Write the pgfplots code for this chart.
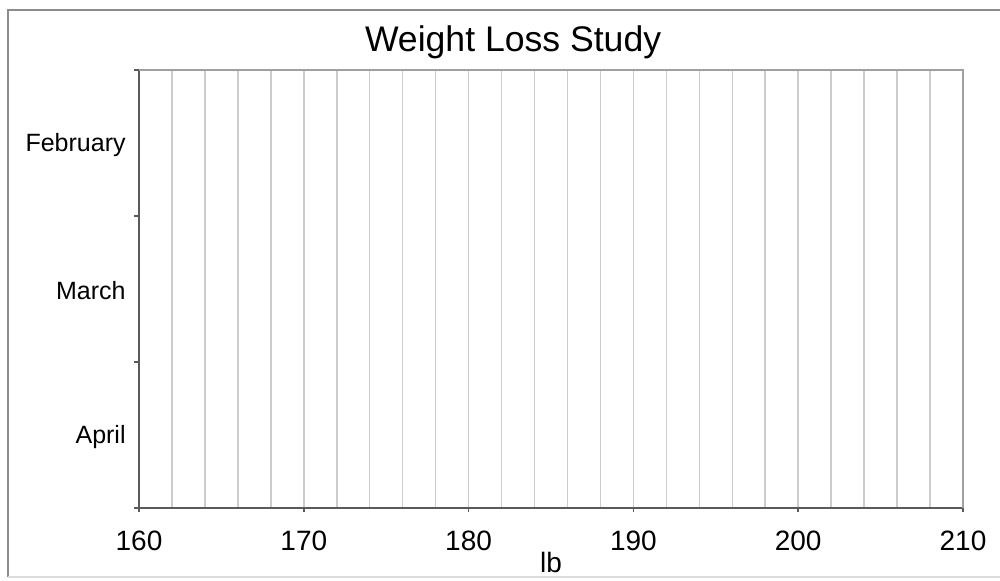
\documentclass[border=0pt]{standalone}
\usepackage{pgfplots}
\pgfplotsset{compat=1.18}
\usepackage{fontspec}
\setmainfont{Liberation Sans}
\definecolor{gridc}{HTML}{CCCCCC}
\definecolor{axc}{HTML}{5A5A5A}
\definecolor{boxc}{HTML}{A0A0A0}
\definecolor{framec}{HTML}{8C8C8C}
\begin{document}
\begin{tikzpicture}
\useasboundingbox (0,0) rectangle (500pt,290pt);
\draw[framec, line width=1.2pt] (510pt,285pt) -- (4pt,285pt) -- (4pt,1.5pt);
\draw[gridc!70, line width=0.6pt] (4pt,1.5pt) -- (510pt,1.5pt);
\begin{axis}[
  at={(69.5pt,36pt)}, anchor=south west,
  scale only axis, width=412pt, height=219pt,
  xmin=160, xmax=210, ymin=0, ymax=3,
  axis x line*=bottom, axis y line*=left,
  axis line style={axc, line width=1pt},
  tick align=outside,
  xtick={160,170,...,210},
  minor x tick num=4,
  xmajorgrids, xminorgrids,
  grid style={gridc, line width=0.75pt},
  minor grid style={gridc, line width=0.75pt},
  minor tick length=0pt,
  major tick length=2pt,
  tick style={axc, line width=0.8pt},
  ytick={0.5,1.5,2.5},
  yticklabels={April,March,February},
  ytick style={draw=none},
  extra y ticks={0,1,2,3},
  extra y tick labels={},
  extra y tick style={ytick style={draw=axc, line width=0.8pt}, major tick length=2.5pt},
  /pgf/number format/assume math mode=true,
  xticklabel style={font=\fontsize{14}{16}\selectfont, anchor=north, yshift=-6pt},
  yticklabel style={font=\fontsize{12.5}{14}\selectfont, anchor=east, inner sep=0pt, xshift=-4.5pt, yshift=-1pt},
  xlabel={lb},
  xlabel style={font=\fontsize{14}{16}\selectfont, at={(rel axis cs:0.5,0)}, anchor=north, inner sep=0pt, yshift=-22pt},
  title={Weight Loss Study},
  title style={font=\fontsize{17.8}{20}\selectfont, at={(rel axis cs:0.454,1)}, anchor=base, inner sep=0pt, yshift=3.5pt},
  after end axis/.code={
    \draw[boxc, line width=0.8pt] (rel axis cs:0,1) -- (rel axis cs:1,1) -- (rel axis cs:1,0);
  },
]
\end{axis}
\end{tikzpicture}
\end{document}
